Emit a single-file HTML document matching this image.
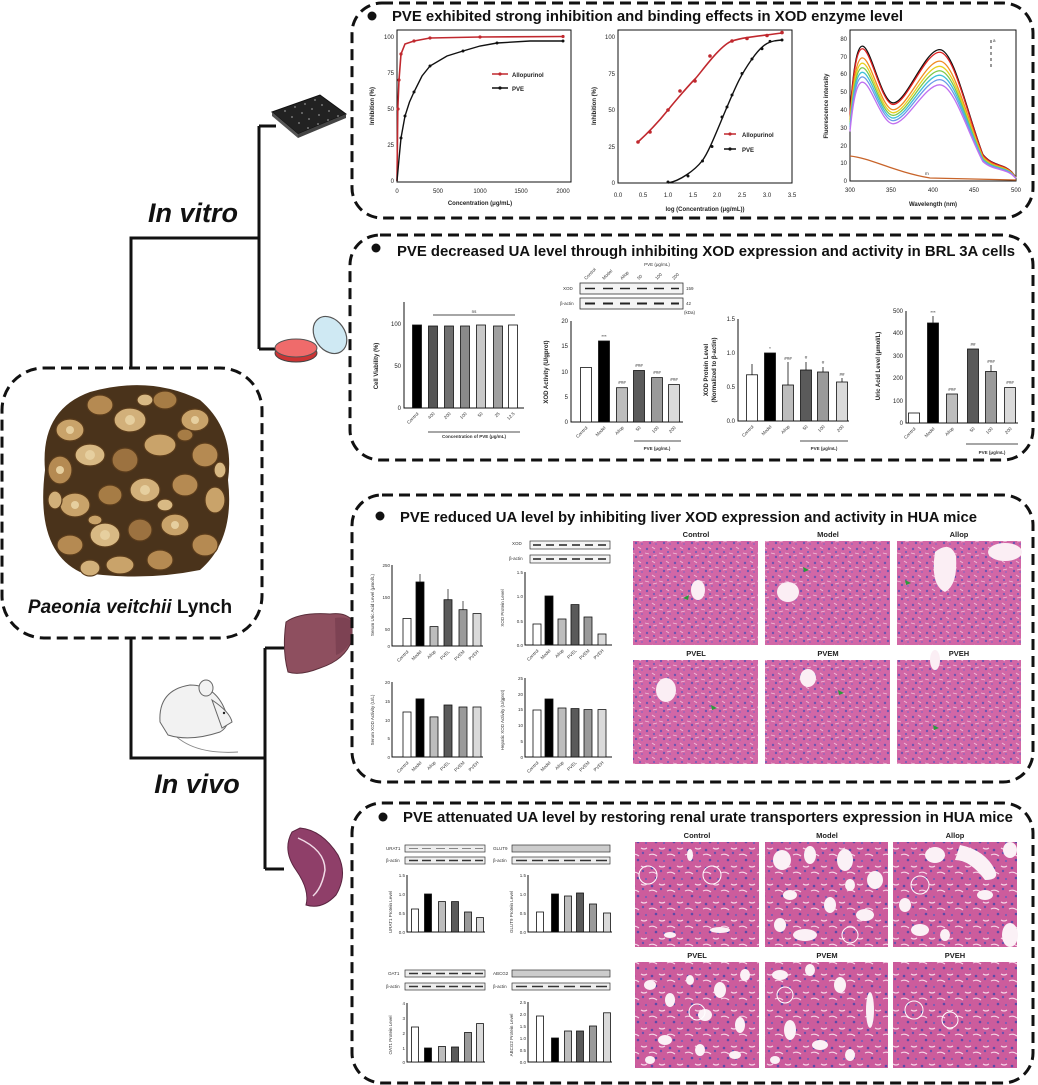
<!DOCTYPE html>
<html><head><meta charset="utf-8"><style>
html,body{margin:0;padding:0;background:#fff;}
svg{display:block;font-family:"Liberation Sans",Arial,sans-serif;}
.t{font-weight:bold;font-size:14.5px;fill:#111;}
.s{font-size:6px;fill:#222;}
.xs{font-size:4.5px;fill:#333;}
.hl{font-size:7.5px;font-weight:bold;fill:#222;text-anchor:middle;}
.dash{fill:none;stroke:#111;stroke-width:3;stroke-dasharray:11 6;}
.ax{stroke:#111;stroke-width:1;fill:none;}
.b rect{stroke:#111;stroke-width:.8;}
.tree{stroke:#111;stroke-width:3;fill:none;}
</style></head><body>
<svg width="1038" height="1085" viewBox="0 0 1038 1085" xmlns="http://www.w3.org/2000/svg">
<defs>
<pattern id="liv" width="14" height="14" patternUnits="userSpaceOnUse">
<rect width="14" height="14" fill="#d267a6"/>
<circle cx="3" cy="3" r="1.2" fill="#6e55b0"/><circle cx="10" cy="6" r="1.1" fill="#7a5db8"/>
<circle cx="6" cy="11" r="1.2" fill="#6e55b0"/><circle cx="12" cy="12" r=".9" fill="#8a66c0"/>
<path d="M1 7 L5 8 M8 1 L11 3 M9 10 L13 9" stroke="#f0c0da" stroke-width=".9"/>
</pattern>
<pattern id="kid" width="18" height="18" patternUnits="userSpaceOnUse">
<rect width="18" height="18" fill="#cc5c9c"/>
<circle cx="4" cy="4" r="1.3" fill="#5d4aa8"/><circle cx="13" cy="7" r="1.2" fill="#6a52ae"/>
<circle cx="8" cy="14" r="1.3" fill="#5d4aa8"/><circle cx="16" cy="15" r="1.1" fill="#7a5db8"/>
<path d="M1 9 Q5 7 9 10 M11 2 Q14 4 17 2" stroke="#f6d6e8" stroke-width="1.2" fill="none"/>
</pattern>
</defs>

<!-- TREE -->
<path class="tree" d="M131 368 V238 H259 M259 126 V349 M259 126 H276 M259 349 H278"/>
<path class="tree" d="M131 638 V758 H265 M265 648 V869 M265 648 H284 M265 869 H284"/>
<text x="193" y="222" font-size="27" font-weight="bold" font-style="italic" text-anchor="middle" fill="#111">In vitro</text>
<text x="197" y="793" font-size="27" font-weight="bold" font-style="italic" text-anchor="middle" fill="#111">In vivo</text>

<!-- plate icon -->
<g>
<polygon points="272,112 320,95 346,114 298,134" fill="#222" stroke="#111"/>
<polygon points="272,112 298,134 298,138 272,116" fill="#555"/>
<polygon points="298,134 346,114 346,118 298,138" fill="#444"/>
<g fill="#777"><circle cx="285" cy="111" r="1"/><circle cx="295" cy="107" r="1"/><circle cx="305" cy="104" r="1"/><circle cx="315" cy="100" r="1"/><circle cx="292" cy="117" r="1"/><circle cx="302" cy="113" r="1"/><circle cx="312" cy="109" r="1"/><circle cx="322" cy="105" r="1"/><circle cx="299" cy="123" r="1"/><circle cx="309" cy="119" r="1"/><circle cx="319" cy="115" r="1"/><circle cx="329" cy="111" r="1"/><circle cx="308" cy="128" r="1"/><circle cx="318" cy="124" r="1"/><circle cx="328" cy="120" r="1"/><circle cx="338" cy="116" r="1"/></g>
</g>
<!-- petri dish -->
<ellipse cx="330" cy="335" rx="15" ry="20" transform="rotate(-35 330 335)" fill="#cfe9f3" stroke="#555" stroke-width="1.2"/>
<ellipse cx="296" cy="353" rx="21" ry="9" fill="#c33" stroke="#444"/>
<ellipse cx="296" cy="348" rx="21" ry="9" fill="#ef6b6b" stroke="#555"/>

<!-- herb box -->
<rect x="2" y="368" width="260" height="270" rx="42" class="dash"/>
<g>
<path d="M45 470 Q40 410 90 392 Q150 375 200 400 Q235 430 228 480 Q235 540 200 570 Q140 582 80 572 Q35 550 45 470Z" fill="#4a331b"/>
<g stroke="#5a3c1c" stroke-width="1.2">
<ellipse cx="70" cy="430" rx="14" ry="11" fill="#c9a36a"/><ellipse cx="100" cy="405" rx="13" ry="10" fill="#b58a52"/><ellipse cx="130" cy="420" rx="16" ry="12" fill="#d2b07a"/><ellipse cx="165" cy="400" rx="12" ry="9" fill="#a67c45"/><ellipse cx="195" cy="420" rx="14" ry="11" fill="#c9a36a"/>
<ellipse cx="60" cy="470" rx="12" ry="14" fill="#b58a52"/><ellipse cx="90" cy="455" rx="15" ry="11" fill="#d8b984"/><ellipse cx="125" cy="460" rx="13" ry="12" fill="#9c7240"/><ellipse cx="160" cy="445" rx="16" ry="11" fill="#c9a36a"/><ellipse cx="205" cy="455" rx="13" ry="12" fill="#b58a52"/>
<ellipse cx="75" cy="505" rx="15" ry="12" fill="#c9a36a"/><ellipse cx="110" cy="495" rx="12" ry="10" fill="#a67c45"/><ellipse cx="145" cy="490" rx="15" ry="12" fill="#d2b07a"/><ellipse cx="185" cy="485" rx="13" ry="11" fill="#b58a52"/><ellipse cx="215" cy="500" rx="10" ry="13" fill="#c9a36a"/>
<ellipse cx="70" cy="545" rx="13" ry="10" fill="#b58a52"/><ellipse cx="105" cy="535" rx="15" ry="12" fill="#d8b984"/><ellipse cx="140" cy="530" rx="12" ry="11" fill="#9c7240"/><ellipse cx="175" cy="525" rx="14" ry="11" fill="#c9a36a"/><ellipse cx="205" cy="545" rx="13" ry="11" fill="#b58a52"/>
<ellipse cx="120" cy="565" rx="14" ry="9" fill="#c9a36a"/><ellipse cx="160" cy="560" rx="13" ry="10" fill="#b58a52"/><ellipse cx="90" cy="568" rx="10" ry="8" fill="#d2b07a"/>
<ellipse cx="145" cy="400" rx="8" ry="6" fill="#d8b984"/><ellipse cx="185" cy="435" rx="8" ry="6" fill="#a67c45"/><ellipse cx="55" cy="500" rx="7" ry="9" fill="#d2b07a"/><ellipse cx="165" cy="505" rx="8" ry="6" fill="#d8b984"/><ellipse cx="95" cy="520" rx="7" ry="5" fill="#c9a36a"/><ellipse cx="220" cy="470" rx="6" ry="8" fill="#d8b984"/>
</g>
<g fill="#e6cf9f"><circle cx="130" cy="420" r="5"/><circle cx="90" cy="455" r="5"/><circle cx="145" cy="490" r="5"/><circle cx="105" cy="535" r="5"/><circle cx="175" cy="525" r="4"/><circle cx="195" cy="420" r="4"/><circle cx="60" cy="470" r="4"/><circle cx="70" cy="430" r="4"/><circle cx="75" cy="505" r="4"/></g>
</g>
<text x="130" y="613" text-anchor="middle" font-size="19" font-weight="bold" fill="#111"><tspan font-style="italic">Paeonia veitchii</tspan> Lynch</text>

<!-- liver -->
<path d="M286 622 Q300 612 330 614 Q345 612 352 620 L352 640 Q345 660 320 668 Q300 676 288 672 Q282 650 286 622Z" fill="#8e4f5f" stroke="#5a2e3a" stroke-width="1"/>
<path d="M335 618 Q348 616 352 622 L352 640 Q345 652 336 655Z" fill="#7d4253"/>
<!-- kidney/spleen -->
<path d="M292 832 Q282 850 296 870 Q310 890 306 905 Q322 910 336 895 Q348 875 338 855 Q322 830 300 828Z" fill="#8f3f69" stroke="#5a2440" stroke-width="1"/>
<path d="M298 838 Q325 850 325 870 Q322 888 313 896" stroke="#f1dbe7" stroke-width="1.5" fill="none"/>
<!-- mouse -->
<g stroke="#666" stroke-width="1" fill="#f2f2f2">
<path d="M170 730 Q190 755 238 752" fill="none" stroke="#888"/>
<path d="M160 722 Q158 690 190 685 Q215 685 225 710 Q232 725 220 732 Q190 742 168 735Z"/>
<ellipse cx="206" cy="688" rx="7" ry="8"/>
<path d="M212 700 Q230 712 232 722 L222 728Z"/>
</g>
<circle cx="224" cy="713" r="1.2" fill="#222"/>

<!-- PANEL 1 -->
<rect x="352" y="3" width="681" height="215" rx="30" class="dash"/>
<circle cx="372" cy="16" r="4.5" fill="#111"/>
<text x="392" y="21" class="t" textLength="511" lengthAdjust="spacingAndGlyphs">PVE exhibited strong inhibition and binding effects in XOD enzyme level</text>
<rect x="397" y="30" width="174" height="152" class="ax"/>
<g class="s" text-anchor="end"><text x="394" y="39">100</text><text x="394" y="75">75</text><text x="394" y="111">50</text><text x="394" y="147">25</text><text x="394" y="183">0</text></g>
<g class="s" text-anchor="middle"><text x="397" y="193">0</text><text x="438" y="193">500</text><text x="480" y="193">1000</text><text x="521" y="193">1500</text><text x="563" y="193">2000</text></g>
<text x="480" y="205" class="s" font-weight="bold" text-anchor="middle" font-size="7">Concentration (μg/mL)</text>
<text transform="translate(374 106) rotate(-90)" class="s" font-weight="bold" font-size="7" text-anchor="middle">Inhibition (%)</text>
<path d="M397 181 L397.8 109 L399 80 L401 54 L405 44 L414 41 L430 38 L480 37 L563 36.5" stroke="#c0282e" stroke-width="1.6" fill="none"/>
<path d="M397 181 L399 159 L401 138 L405 116 L409.5 102 L414 92 L422 76 L430 66 L447 56 L463 51 L480 46 L497 43 L530 41 L563 41" stroke="#111" stroke-width="1.4" fill="none"/>
<g fill="#c0282e"><circle cx="398" cy="109" r="1.6"/><circle cx="399" cy="80" r="1.6"/><circle cx="401" cy="54" r="1.6"/><circle cx="414" cy="41" r="1.6"/><circle cx="430" cy="38" r="1.6"/><circle cx="480" cy="37" r="1.6"/><circle cx="563" cy="36.5" r="1.6"/></g>
<g fill="#111"><circle cx="401" cy="138" r="1.5"/><circle cx="405" cy="116" r="1.5"/><circle cx="414" cy="92" r="1.5"/><circle cx="430" cy="66" r="1.5"/><circle cx="463" cy="51" r="1.5"/><circle cx="497" cy="43" r="1.5"/><circle cx="563" cy="41" r="1.5"/></g>
<path d="M492 74 H508" stroke="#c0282e" stroke-width="1.5"/><circle cx="500" cy="74" r="1.6" fill="#c0282e"/>
<path d="M492 88 H508" stroke="#111" stroke-width="1.5"/><circle cx="500" cy="88" r="1.6" fill="#111"/>
<text x="512" y="77" class="s" font-weight="bold" font-size="7">Allopurinol</text><text x="512" y="91" class="s" font-weight="bold" font-size="7">PVE</text>
<rect x="618" y="30" width="174" height="153" class="ax"/>
<g class="s" text-anchor="end"><text x="615" y="39">100</text><text x="615" y="76">75</text><text x="615" y="112">50</text><text x="615" y="149">25</text><text x="615" y="185">0</text></g>
<g class="s" text-anchor="middle"><text x="618" y="197">0.0</text><text x="643" y="197">0.5</text><text x="668" y="197">1.0</text><text x="693" y="197">1.5</text><text x="717" y="197">2.0</text><text x="742" y="197">2.5</text><text x="767" y="197">3.0</text><text x="792" y="197">3.5</text></g>
<text x="705" y="211" class="s" font-weight="bold" font-size="7.5" text-anchor="middle">log (Concentration (μg/mL))</text>
<text transform="translate(596 106) rotate(-90)" class="s" font-weight="bold" font-size="7.5" text-anchor="middle">Inhibition (%)</text>
<path d="M638 142 C650 131 660 120 668 110 S690 84 695 79 S720 45 732 41 S760 36 782 33" stroke="#c0282e" stroke-width="1.6" fill="none"/>
<path d="M668 183 C680 181 695 170 702 161 S718 128 727 107 S740 76 752 59 S770 41 782 40" stroke="#111" stroke-width="1.4" fill="none"/>
<g fill="#c0282e"><circle cx="638" cy="142" r="1.8"/><circle cx="650" cy="132" r="1.8"/><circle cx="668" cy="110" r="1.8"/><circle cx="680" cy="91" r="1.8"/><circle cx="695" cy="81" r="1.8"/><circle cx="710" cy="56" r="1.8"/><circle cx="732" cy="41" r="1.8"/><circle cx="747" cy="38.5" r="1.8"/><circle cx="767" cy="35.5" r="1.8"/><circle cx="782" cy="32.6" r="1.8"/></g>
<g fill="#111"><circle cx="668" cy="182" r="1.5"/><circle cx="688" cy="176" r="1.5"/><circle cx="702.5" cy="161" r="1.5"/><circle cx="712" cy="146.5" r="1.5"/><circle cx="722" cy="117" r="1.5"/><circle cx="727" cy="107" r="1.5"/><circle cx="732" cy="95" r="1.5"/><circle cx="742" cy="73.5" r="1.5"/><circle cx="752" cy="59" r="1.5"/><circle cx="762" cy="48.7" r="1.5"/><circle cx="770" cy="41.4" r="1.5"/><circle cx="782" cy="40" r="1.5"/></g>
<path d="M724 134 H736" stroke="#c0282e" stroke-width="1.5"/><circle cx="730" cy="134" r="1.6" fill="#c0282e"/>
<path d="M724 149 H736" stroke="#111" stroke-width="1.5"/><circle cx="730" cy="149" r="1.6" fill="#111"/>
<text x="742" y="137" class="s" font-weight="bold" font-size="7.5">Allopurinol</text><text x="742" y="152" class="s" font-weight="bold" font-size="7.5">PVE</text>
<rect x="850" y="30" width="166" height="151" class="ax"/>
<g class="s" text-anchor="end"><text x="847" y="41">80</text><text x="847" y="59">70</text><text x="847" y="76">60</text><text x="847" y="94">50</text><text x="847" y="112">40</text><text x="847" y="130">30</text><text x="847" y="148">20</text><text x="847" y="165">10</text><text x="847" y="183">0</text></g>
<g class="s" text-anchor="middle"><text x="850" y="192">300</text><text x="891" y="192">350</text><text x="933" y="192">400</text><text x="974" y="192">450</text><text x="1016" y="192">500</text></g>
<text x="933" y="206" class="s" font-weight="bold" font-size="7" text-anchor="middle">Wavelength (nm)</text>
<text transform="translate(828 106) rotate(-90)" class="s" font-weight="bold" font-size="7" text-anchor="middle">Fluorescence intensity</text>
<g fill="none" stroke-width="1.3">
<path d="M0,38 C5,70 10,76 15,76 C25,76 38,44 52,44 C68,44 90,74 108,74 C125,74 140,40 160,15 C172,8 185,10 195,5 L200,2" transform="translate(850,181) scale(0.83,-1.775)" stroke="#111" vector-effect="non-scaling-stroke"/>
<path d="M0,38 C5,70 10,76 15,76 C25,76 38,44 52,44 C68,44 90,74 108,74 C125,74 140,40 160,15 C172,8 185,10 195,5 L200,2" transform="translate(850,181) scale(0.83,-1.74)" stroke="#e02020" vector-effect="non-scaling-stroke"/>
<path d="M0,38 C5,70 10,76 15,76 C25,76 38,44 52,44 C68,44 90,74 108,74 C125,74 140,40 160,15 C172,8 185,10 195,5 L200,2" transform="translate(850,181) scale(0.83,-1.62)" stroke="#f08a20" vector-effect="non-scaling-stroke"/>
<path d="M0,38 C5,70 10,76 15,76 C25,76 38,44 52,44 C68,44 90,74 108,74 C125,74 140,40 160,15 C172,8 185,10 195,5 L200,2" transform="translate(850,181) scale(0.83,-1.55)" stroke="#e8d020" vector-effect="non-scaling-stroke"/>
<path d="M0,38 C5,70 10,76 15,76 C25,76 38,44 52,44 C68,44 90,74 108,74 C125,74 140,40 160,15 C172,8 185,10 195,5 L200,2" transform="translate(850,181) scale(0.83,-1.49)" stroke="#7cc84a" vector-effect="non-scaling-stroke"/>
<path d="M0,38 C5,70 10,76 15,76 C25,76 38,44 52,44 C68,44 90,74 108,74 C125,74 140,40 160,15 C172,8 185,10 195,5 L200,2" transform="translate(850,181) scale(0.83,-1.43)" stroke="#40c0d8" vector-effect="non-scaling-stroke"/>
<path d="M0,38 C5,70 10,76 15,76 C25,76 38,44 52,44 C68,44 90,74 108,74 C125,74 140,40 160,15 C172,8 185,10 195,5 L200,2" transform="translate(850,181) scale(0.83,-1.37)" stroke="#6a9ae8" vector-effect="non-scaling-stroke"/>
<path d="M0,38 C5,70 10,76 15,76 C25,76 38,44 52,44 C68,44 90,74 108,74 C125,74 140,40 160,15 C172,8 185,10 195,5 L200,2" transform="translate(850,181) scale(0.83,-1.3)" stroke="#c070f0" vector-effect="non-scaling-stroke"/>
<path d="M850 156 C870 158 895 172 930 178 L1016 180" stroke="#c8642a"/>
</g>
<text x="925" y="175" class="xs">m</text>
<path d="M991 40 V70" stroke="#333" stroke-width="1" stroke-dasharray="3 3"/><text x="993" y="42" class="xs">a</text>

<!-- PANEL 2 -->
<rect x="350" y="235" width="683" height="225" rx="30" class="dash"/>
<circle cx="376" cy="248" r="4.5" fill="#111"/>
<text x="397" y="256" class="t" textLength="618" lengthAdjust="spacingAndGlyphs">PVE decreased UA level through inhibiting XOD expression and activity in BRL 3A cells</text>
<path class="ax" d="M404 302 V408 H524"/>
<g class="s" text-anchor="end"><text x="401" y="326">100</text><text x="401" y="368">50</text><text x="401" y="410">0</text></g>
<text transform="translate(378 366) rotate(-90)" class="s" font-weight="bold" text-anchor="middle">Cell Viability (%)</text>
<g class="b"><rect x="412.5" y="325" width="9" height="83" fill="#000"/><rect x="428.5" y="326" width="9" height="82" fill="#555"/><rect x="444.5" y="326" width="9" height="82" fill="#707070"/><rect x="460.5" y="326" width="9" height="82" fill="#8a8a8a"/><rect x="476.5" y="325" width="9" height="83" fill="#c8c8c8"/><rect x="493.5" y="326" width="9" height="82" fill="#a0a0a0"/><rect x="508.5" y="325" width="9" height="83" fill="#fff"/></g>
<path d="M433 315 H515" stroke="#111" stroke-width=".8"/><text x="474" y="313" class="xs" text-anchor="middle">ns</text>
<g class="xs" text-anchor="end"><text transform="translate(419 414) rotate(-45)">Control</text><text transform="translate(435 414) rotate(-45)">400</text><text transform="translate(451 414) rotate(-45)">200</text><text transform="translate(467 414) rotate(-45)">100</text><text transform="translate(483 414) rotate(-45)">50</text><text transform="translate(500 414) rotate(-45)">25</text><text transform="translate(515 414) rotate(-45)">12.5</text></g>
<path d="M428 432 H520" stroke="#111" stroke-width=".8"/>
<text x="474" y="438" class="xs" font-weight="bold" text-anchor="middle" font-size="5.5">Concentration of PVE (μg/mL)</text>
<g class="xs"><text x="563" y="290">XOD</text><text x="560" y="305">β-actin</text><text x="686" y="290">159</text><text x="686" y="305">42</text><text x="684" y="314">(kDa)</text></g>
<rect x="580" y="283" width="103" height="11" fill="#f4f4f4" stroke="#333" stroke-width=".8"/>
<rect x="580" y="298" width="103" height="11" fill="#f4f4f4" stroke="#333" stroke-width=".8"/>
<g stroke="#222" stroke-width="2"><path d="M585 288.5 h10 M603 288.5 h10 M620 288.5 h10 M637 288.5 h10 M654 288.5 h10 M671 288.5 h8" stroke-width="1.5"/><path d="M585 303.5 h10 M603 303.5 h10 M620 303.5 h10 M637 303.5 h10 M654 303.5 h10 M671 303.5 h8"/></g>
<g class="xs" text-anchor="start"><text transform="translate(586 280) rotate(-45)">Control</text><text transform="translate(604 280) rotate(-45)">Model</text><text transform="translate(622 280) rotate(-45)">Allop</text><text transform="translate(639 280) rotate(-45)">50</text><text transform="translate(657 280) rotate(-45)">100</text><text transform="translate(674 280) rotate(-45)">200</text></g>
<text x="657" y="266" class="xs" text-anchor="middle" font-size="4">PVE (μg/mL)</text>
<path class="ax" d="M571 321 V422 H683"/>
<g class="s" text-anchor="end"><text x="568" y="323">20</text><text x="568" y="348">15</text><text x="568" y="374">10</text><text x="568" y="399">5</text><text x="568" y="424">0</text></g>
<text transform="translate(548 372) rotate(-90)" class="s" font-weight="bold" text-anchor="middle">XOD Activity (U/gprot)</text>
<g class="b"><rect x="580.5" y="367.5" width="11" height="54.5" fill="#fff"/><rect x="598.5" y="341" width="11" height="81" fill="#000"/><rect x="616.5" y="387.7" width="11" height="34.3" fill="#bdbdbd"/><rect x="633.5" y="370.5" width="11" height="51.5" fill="#5a5a5a"/><rect x="651.5" y="377.6" width="11" height="44.4" fill="#9a9a9a"/><rect x="668.5" y="384.6" width="11" height="37.4" fill="#dadada"/></g>
<g class="xs" text-anchor="middle"><text x="604" y="338">***</text><text x="622" y="384">###</text><text x="639" y="367">###</text><text x="657" y="374">###</text><text x="674" y="381">###</text></g>
<g class="xs" text-anchor="end"><text transform="translate(588 428) rotate(-45)">Control</text><text transform="translate(606 428) rotate(-45)">Model</text><text transform="translate(624 428) rotate(-45)">Allop</text><text transform="translate(641 428) rotate(-45)">50</text><text transform="translate(659 428) rotate(-45)">100</text><text transform="translate(676 428) rotate(-45)">200</text></g>
<path d="M634 441 H681" stroke="#111" stroke-width=".8"/><text x="657" y="450" class="xs" font-weight="bold" text-anchor="middle" font-size="5.5">PVE (μg/mL)</text>
<path class="ax" d="M738 319 V421 H849"/>
<g class="s" text-anchor="end"><text x="735" y="321">1.5</text><text x="735" y="355">1.0</text><text x="735" y="389">0.5</text><text x="735" y="423">0.0</text></g>
<text transform="translate(708 370) rotate(-90)" class="s" font-weight="bold" text-anchor="middle">XOD Protein Level</text>
<text transform="translate(716 370) rotate(-90)" class="s" font-weight="bold" text-anchor="middle">(Normalized to β-actin)</text>
<g class="b"><rect x="746.5" y="374.8" width="11" height="46.2" fill="#fff"/><rect x="764.5" y="353" width="11" height="68" fill="#000"/><rect x="782.5" y="385" width="11" height="36" fill="#bdbdbd"/><rect x="800.5" y="370" width="11" height="51" fill="#5a5a5a"/><rect x="817.5" y="372" width="11" height="49" fill="#9a9a9a"/><rect x="836.5" y="382" width="11" height="39" fill="#dadada"/></g>
<g stroke="#111" stroke-width=".8"><path d="M752 374.8 V364 M788 385 V362 M806 370 V362 M823 372 V367 M842 382 V378"/></g>
<g class="xs" text-anchor="middle"><text x="770" y="350">*</text><text x="788" y="360">###</text><text x="806" y="359">#</text><text x="823" y="364">#</text><text x="842" y="376">##</text></g>
<g class="xs" text-anchor="end"><text transform="translate(754 427) rotate(-45)">Control</text><text transform="translate(772 427) rotate(-45)">Model</text><text transform="translate(790 427) rotate(-45)">Allop</text><text transform="translate(808 427) rotate(-45)">50</text><text transform="translate(825 427) rotate(-45)">100</text><text transform="translate(844 427) rotate(-45)">200</text></g>
<path d="M800 441 H848" stroke="#111" stroke-width=".8"/><text x="824" y="450" class="xs" font-weight="bold" text-anchor="middle" font-size="5.5">PVE (μg/mL)</text>
<path class="ax" d="M906 311 V423 H1018"/>
<g class="s" text-anchor="end"><text x="903" y="313">500</text><text x="903" y="335">400</text><text x="903" y="358">300</text><text x="903" y="380">200</text><text x="903" y="403">100</text><text x="903" y="425">0</text></g>
<text transform="translate(880 366) rotate(-90)" class="s" font-weight="bold" text-anchor="middle">Uric Acid Level (μmol/L)</text>
<g class="b"><rect x="908.5" y="413" width="11" height="10" fill="#fff"/><rect x="927.5" y="323" width="11" height="100" fill="#000"/><rect x="946.5" y="394" width="11" height="29" fill="#bdbdbd"/><rect x="967.5" y="349" width="11" height="74" fill="#5a5a5a"/><rect x="985.5" y="371.5" width="11" height="51.5" fill="#9a9a9a"/><rect x="1004.5" y="387.6" width="11" height="35.4" fill="#dadada"/></g>
<g stroke="#111" stroke-width=".8"><path d="M933 323 V316 M991 371.5 V365"/></g>
<g class="xs" text-anchor="middle"><text x="933" y="314">***</text><text x="952" y="391">###</text><text x="973" y="346">##</text><text x="991" y="363">###</text><text x="1010" y="384">###</text></g>
<g class="xs" text-anchor="end"><text transform="translate(916 429) rotate(-45)">Control</text><text transform="translate(935 429) rotate(-45)">Model</text><text transform="translate(954 429) rotate(-45)">Allop</text><text transform="translate(975 429) rotate(-45)">50</text><text transform="translate(993 429) rotate(-45)">100</text><text transform="translate(1012 429) rotate(-45)">200</text></g>
<path d="M966 444 H1018" stroke="#111" stroke-width=".8"/><text x="992" y="454" class="xs" font-weight="bold" text-anchor="middle" font-size="5.5">PVE (μg/mL)</text>

<!-- PANEL 3 -->
<rect x="352" y="495" width="681" height="287" rx="30" class="dash"/>
<circle cx="380" cy="516" r="4.5" fill="#111"/>
<text x="400" y="522" class="t" textLength="577" lengthAdjust="spacingAndGlyphs">PVE reduced UA level by inhibiting liver XOD expression and activity in HUA mice</text>
<path class="ax" d="M392 565 V646 H483"/>
<g class="xs" text-anchor="end"><text x="390" y="567">250</text><text x="390" y="599">150</text><text x="390" y="631">50</text><text x="390" y="648">0</text></g>
<text transform="translate(374 605) rotate(-90)" class="xs" text-anchor="middle">Serum Uric Acid Level (μmol/L)</text>
<g class="b"><rect x="403" y="618.5" width="8" height="27.5" fill="#fff"/><rect x="416" y="582" width="8" height="64" fill="#000"/><rect x="430" y="626.6" width="8" height="19.4" fill="#bdbdbd"/><rect x="444" y="599.7" width="8" height="46.3" fill="#5a5a5a"/><rect x="459" y="609.7" width="8" height="36.3" fill="#9a9a9a"/><rect x="473" y="613.6" width="8" height="32.4" fill="#dadada"/></g>
<g stroke="#111" stroke-width=".7"><path d="M420 582 V574 M448 599.7 V589 M463 609.7 V601"/></g>
<g class="xs"><text x="512" y="545">XOD</text><text x="509" y="560">β-actin</text></g>
<rect x="530" y="541" width="80" height="8" fill="#f4f4f4" stroke="#333" stroke-width=".7"/>
<rect x="530" y="555" width="80" height="8" fill="#f4f4f4" stroke="#333" stroke-width=".7"/>
<path d="M533 545 h8 M546 545 h8 M559 545 h8 M572 545 h8 M585 545 h8 M598 545 h8 M533 559 h8 M546 559 h8 M559 559 h8 M572 559 h8 M585 559 h8 M598 559 h8" stroke="#222" stroke-width="1.6"/>
<path class="ax" d="M525 572 V645 H612"/>
<g class="xs" text-anchor="end"><text x="523" y="574">1.5</text><text x="523" y="598">1.0</text><text x="523" y="623">0.5</text><text x="523" y="647">0.0</text></g>
<text transform="translate(504 608) rotate(-90)" class="xs" text-anchor="middle">XOD Protein Level</text>
<g class="b"><rect x="533" y="624" width="8" height="21" fill="#fff"/><rect x="545" y="596" width="8" height="49" fill="#000"/><rect x="558" y="619" width="8" height="26" fill="#bdbdbd"/><rect x="571" y="604.6" width="8" height="40.4" fill="#5a5a5a"/><rect x="584" y="617" width="8" height="28" fill="#9a9a9a"/><rect x="598" y="634" width="8" height="11" fill="#dadada"/></g>
<path class="ax" d="M392 682 V757 H483"/>
<g class="xs" text-anchor="end"><text x="390" y="684">20</text><text x="390" y="703">15</text><text x="390" y="722">10</text><text x="390" y="740">5</text><text x="390" y="759">0</text></g>
<text transform="translate(374 720) rotate(-90)" class="xs" text-anchor="middle">Serum XOD Activity (U/L)</text>
<g class="b"><rect x="403" y="712" width="8" height="45" fill="#fff"/><rect x="416" y="698.9" width="8" height="58.1" fill="#000"/><rect x="430" y="716.9" width="8" height="40.1" fill="#bdbdbd"/><rect x="444" y="705" width="8" height="52" fill="#5a5a5a"/><rect x="459" y="707" width="8" height="50" fill="#9a9a9a"/><rect x="473" y="707" width="8" height="50" fill="#dadada"/></g>
<path class="ax" d="M525 678 V757 H612"/>
<g class="xs" text-anchor="end"><text x="523" y="680">25</text><text x="523" y="696">20</text><text x="523" y="711">15</text><text x="523" y="727">10</text><text x="523" y="743">5</text><text x="523" y="759">0</text></g>
<text transform="translate(504 720) rotate(-90)" class="xs" text-anchor="middle">Hepatic XOD Activity (U/gprot)</text>
<g class="b"><rect x="533" y="710" width="8" height="47" fill="#fff"/><rect x="545" y="699" width="8" height="58" fill="#000"/><rect x="558" y="708" width="8" height="49" fill="#bdbdbd"/><rect x="571" y="708.6" width="8" height="48.4" fill="#5a5a5a"/><rect x="584" y="709.6" width="8" height="47.4" fill="#9a9a9a"/><rect x="598" y="709.6" width="8" height="47.4" fill="#dadada"/></g>
<g class="xs" font-size="3.8" text-anchor="end">
<text transform="translate(409 652) rotate(-45)">Control</text><text transform="translate(422 652) rotate(-45)">Model</text><text transform="translate(436 652) rotate(-45)">Allop</text><text transform="translate(450 652) rotate(-45)">PVEL</text><text transform="translate(465 652) rotate(-45)">PVEM</text><text transform="translate(479 652) rotate(-45)">PVEH</text>
<text transform="translate(539 651) rotate(-45)">Control</text><text transform="translate(551 651) rotate(-45)">Model</text><text transform="translate(564 651) rotate(-45)">Allop</text><text transform="translate(577 651) rotate(-45)">PVEL</text><text transform="translate(590 651) rotate(-45)">PVEM</text><text transform="translate(604 651) rotate(-45)">PVEH</text>
<text transform="translate(409 763) rotate(-45)">Control</text><text transform="translate(422 763) rotate(-45)">Model</text><text transform="translate(436 763) rotate(-45)">Allop</text><text transform="translate(450 763) rotate(-45)">PVEL</text><text transform="translate(465 763) rotate(-45)">PVEM</text><text transform="translate(479 763) rotate(-45)">PVEH</text>
<text transform="translate(539 763) rotate(-45)">Control</text><text transform="translate(551 763) rotate(-45)">Model</text><text transform="translate(564 763) rotate(-45)">Allop</text><text transform="translate(577 763) rotate(-45)">PVEL</text><text transform="translate(590 763) rotate(-45)">PVEM</text><text transform="translate(604 763) rotate(-45)">PVEH</text>
</g>
<text x="696" y="537" class="hl">Control</text><text x="828" y="537" class="hl">Model</text><text x="959" y="537" class="hl">Allop</text>
<text x="696" y="656" class="hl">PVEL</text><text x="828" y="656" class="hl">PVEM</text><text x="959" y="656" class="hl">PVEH</text>
<rect x="633" y="541" width="125" height="104" fill="url(#liv)"/>
<rect x="765" y="541" width="125" height="104" fill="url(#liv)"/>
<rect x="897" y="541" width="124" height="104" fill="url(#liv)"/>
<rect x="633" y="660" width="125" height="104" fill="url(#liv)"/>
<rect x="765" y="660" width="125" height="104" fill="url(#liv)"/>
<rect x="897" y="660" width="124" height="104" fill="url(#liv)"/>
<g fill="#fbeef4"><ellipse cx="698" cy="590" rx="7" ry="10"/><ellipse cx="788" cy="592" rx="11" ry="10"/><path d="M935 552 Q950 540 956 556 Q958 585 945 592 Q930 585 935 552Z"/><ellipse cx="1005" cy="552" rx="17" ry="9"/><ellipse cx="666" cy="690" rx="10" ry="12"/><ellipse cx="808" cy="678" rx="8" ry="9"/><ellipse cx="935" cy="660" rx="5" ry="10"/></g>
<g fill="#2a9a3a"><path d="M683 598 l6 -3 l-1 5z"/><path d="M803 567 l6 3 l-5 2z"/><path d="M905 580 l6 3 l-5 2z"/><path d="M711 705 l6 3 l-5 2z"/><path d="M838 690 l6 3 l-5 2z"/><path d="M933 725 l6 3 l-5 2z"/></g>

<!-- PANEL 4 -->
<rect x="352" y="803" width="681" height="280" rx="30" class="dash"/>
<circle cx="383" cy="817" r="4.5" fill="#111"/>
<text x="403" y="822" class="t" textLength="610" lengthAdjust="spacingAndGlyphs">PVE attenuated  UA level by restoring renal urate transporters expression in HUA mice</text>
<g fill="#eee" stroke="#333" stroke-width=".7">
<rect x="405" y="845" width="80" height="7"/><rect x="405" y="857" width="80" height="7"/>
<rect x="512" y="845" width="98" height="7" fill="#ccc"/><rect x="512" y="857" width="98" height="7"/>
<rect x="405" y="970" width="80" height="7"/><rect x="405" y="983" width="80" height="7"/>
<rect x="512" y="970" width="98" height="7" fill="#ccc"/><rect x="512" y="983" width="98" height="7"/>
</g>
<g stroke="#333" stroke-width="1.5">
<path d="M409 848.5 h9 M422 848.5 h9 M436 848.5 h9 M449 848.5 h9 M462 848.5 h9 M475 848.5 h8" stroke-width="1" stroke="#888"/>
<path d="M409 860.5 h9 M422 860.5 h9 M436 860.5 h9 M449 860.5 h9 M462 860.5 h9 M475 860.5 h8"/>
<path d="M516 860.5 h11 M532 860.5 h11 M548 860.5 h11 M564 860.5 h11 M580 860.5 h11 M596 860.5 h11"/>
<path d="M409 973.5 h9 M422 973.5 h9 M436 973.5 h9 M449 973.5 h9 M462 973.5 h9 M475 973.5 h8"/>
<path d="M409 986.5 h9 M422 986.5 h9 M436 986.5 h9 M449 986.5 h9 M462 986.5 h9 M475 986.5 h8"/>
<path d="M516 986.5 h11 M532 986.5 h11 M548 986.5 h11 M564 986.5 h11 M580 986.5 h11 M596 986.5 h11"/>
</g>
<g class="xs" font-size="3.8"><text x="386" y="850">URAT1</text><text x="386" y="862">β-actin</text><text x="493" y="850">GLUT9</text><text x="493" y="862">β-actin</text><text x="388" y="975">OAT1</text><text x="386" y="988">β-actin</text><text x="493" y="975">ABCG2</text><text x="493" y="988">β-actin</text></g>
<path class="ax" d="M407 875 V932 H485"/>
<g class="xs" font-size="3.8" text-anchor="end"><text x="405" y="877">1.5</text><text x="405" y="896">1.0</text><text x="405" y="915">0.5</text><text x="405" y="934">0.0</text></g>
<g class="b"><rect x="411.5" y="909" width="7" height="23" fill="#fff"/><rect x="424.5" y="894" width="7" height="38" fill="#000"/><rect x="438.5" y="901.6" width="7" height="30.4" fill="#bdbdbd"/><rect x="451.5" y="901.6" width="7" height="30.4" fill="#5a5a5a"/><rect x="464.5" y="912" width="7" height="20" fill="#9a9a9a"/><rect x="476.5" y="917.6" width="7" height="14.4" fill="#dadada"/></g>
<path class="ax" d="M528 875 V932 H612"/>
<g class="xs" font-size="3.8" text-anchor="end"><text x="526" y="877">1.5</text><text x="526" y="896">1.0</text><text x="526" y="915">0.5</text><text x="526" y="934">0.0</text></g>
<g class="b"><rect x="536.5" y="912" width="7" height="20" fill="#fff"/><rect x="551.5" y="894" width="7" height="38" fill="#000"/><rect x="564.5" y="896" width="7" height="36" fill="#bdbdbd"/><rect x="576.5" y="893" width="7" height="39" fill="#5a5a5a"/><rect x="589.5" y="904" width="7" height="28" fill="#9a9a9a"/><rect x="603.5" y="913" width="7" height="19" fill="#dadada"/></g>
<path class="ax" d="M407 1003 V1062 H485"/>
<g class="xs" font-size="3.8" text-anchor="end"><text x="405" y="1005">4</text><text x="405" y="1020">3</text><text x="405" y="1035">2</text><text x="405" y="1050">1</text><text x="405" y="1064">0</text></g>
<g class="b"><rect x="411.5" y="1027" width="7" height="35" fill="#fff"/><rect x="424.5" y="1048" width="7" height="14" fill="#000"/><rect x="438.5" y="1046.5" width="7" height="15.5" fill="#bdbdbd"/><rect x="451.5" y="1047" width="7" height="15" fill="#5a5a5a"/><rect x="464.5" y="1032.5" width="7" height="29.5" fill="#9a9a9a"/><rect x="476.5" y="1023.6" width="7" height="38.4" fill="#dadada"/></g>
<path class="ax" d="M528 1002 V1062 H612"/>
<g class="xs" font-size="3.8" text-anchor="end"><text x="526" y="1004">2.5</text><text x="526" y="1016">2.0</text><text x="526" y="1028">1.5</text><text x="526" y="1040">1.0</text><text x="526" y="1052">0.5</text><text x="526" y="1064">0.0</text></g>
<g class="b"><rect x="536.5" y="1016" width="7" height="46" fill="#fff"/><rect x="551.5" y="1038" width="7" height="24" fill="#000"/><rect x="564.5" y="1031" width="7" height="31" fill="#bdbdbd"/><rect x="576.5" y="1031" width="7" height="31" fill="#5a5a5a"/><rect x="589.5" y="1026" width="7" height="36" fill="#9a9a9a"/><rect x="603.5" y="1012.8" width="7" height="49.2" fill="#dadada"/></g>
<g class="xs" font-size="3.5">
<text transform="translate(392 912) rotate(-90)" text-anchor="middle">URAT1 Protein Level</text>
<text transform="translate(513 912) rotate(-90)" text-anchor="middle">GLUT9 Protein Level</text>
<text transform="translate(392 1035) rotate(-90)" text-anchor="middle">OAT1 Protein Level</text>
<text transform="translate(513 1035) rotate(-90)" text-anchor="middle">ABCG2 Protein Level</text>
</g>
<text x="697" y="838" class="hl">Control</text><text x="827" y="838" class="hl">Model</text><text x="955" y="838" class="hl">Allop</text>
<text x="697" y="958" class="hl">PVEL</text><text x="827" y="958" class="hl">PVEM</text><text x="955" y="958" class="hl">PVEH</text>
<rect x="635" y="842" width="124" height="105" fill="url(#kid)"/>
<rect x="765" y="842" width="123" height="105" fill="url(#kid)"/>
<rect x="893" y="842" width="124" height="105" fill="url(#kid)"/>
<rect x="635" y="962" width="124" height="106" fill="url(#kid)"/>
<rect x="765" y="962" width="123" height="106" fill="url(#kid)"/>
<rect x="893" y="962" width="124" height="106" fill="url(#kid)"/>
<g fill="#fbf1f6">
<ellipse cx="690" cy="855" rx="3" ry="6"/><ellipse cx="720" cy="930" rx="10" ry="3"/><ellipse cx="670" cy="935" rx="6" ry="3"/>
<ellipse cx="782" cy="860" rx="9" ry="10"/><ellipse cx="810" cy="855" rx="6" ry="9"/><ellipse cx="845" cy="860" rx="8" ry="11"/><ellipse cx="875" cy="880" rx="8" ry="9"/><ellipse cx="790" cy="895" rx="7" ry="5"/><ellipse cx="830" cy="905" rx="6" ry="8"/><ellipse cx="865" cy="915" rx="9" ry="6"/><ellipse cx="805" cy="935" rx="12" ry="6"/><ellipse cx="780" cy="925" rx="6" ry="7"/><ellipse cx="850" cy="885" rx="5" ry="6"/>
<ellipse cx="935" cy="855" rx="10" ry="8"/><path d="M960 845 Q985 850 995 870 Q1000 880 985 880 Q970 860 955 860Z"/><ellipse cx="1010" cy="850" rx="7" ry="8"/><ellipse cx="985" cy="895" rx="8" ry="5"/><ellipse cx="1010" cy="935" rx="8" ry="12"/><ellipse cx="905" cy="905" rx="6" ry="7"/><ellipse cx="920" cy="930" rx="9" ry="6"/><ellipse cx="945" cy="935" rx="5" ry="6"/>
<ellipse cx="650" cy="985" rx="6" ry="5"/><ellipse cx="670" cy="1000" rx="5" ry="7"/><ellipse cx="690" cy="980" rx="4" ry="5"/><ellipse cx="720" cy="990" rx="6" ry="8"/><ellipse cx="745" cy="975" rx="5" ry="6"/><ellipse cx="705" cy="1015" rx="7" ry="6"/><ellipse cx="740" cy="1025" rx="5" ry="8"/><ellipse cx="665" cy="1040" rx="7" ry="5"/><ellipse cx="700" cy="1050" rx="5" ry="6"/><ellipse cx="735" cy="1055" rx="6" ry="4"/><ellipse cx="650" cy="1060" rx="5" ry="4"/>
<ellipse cx="780" cy="975" rx="8" ry="5"/><ellipse cx="810" cy="970" rx="5" ry="6"/><ellipse cx="840" cy="985" rx="6" ry="8"/><ellipse cx="870" cy="1010" rx="4" ry="18"/><ellipse cx="790" cy="1030" rx="6" ry="10"/><ellipse cx="820" cy="1045" rx="8" ry="5"/><ellipse cx="850" cy="1055" rx="5" ry="6"/><ellipse cx="775" cy="1060" rx="5" ry="4"/>
</g>
<g fill="none" stroke="#fff" stroke-width="1"><circle cx="648" cy="875" r="9"/><circle cx="712" cy="875" r="9"/><circle cx="850" cy="935" r="8"/><circle cx="920" cy="885" r="9"/><circle cx="697" cy="1012" r="8"/><circle cx="785" cy="995" r="8"/><circle cx="914" cy="1010" r="9"/><circle cx="950" cy="1020" r="8"/></g>
</svg>
</body></html>
